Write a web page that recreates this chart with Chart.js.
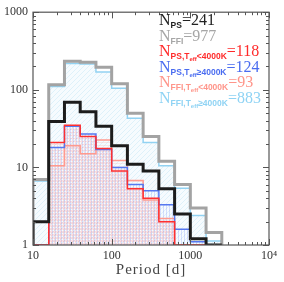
<!DOCTYPE html>
<html>
<head>
<meta charset="utf-8">
<script src="https://cdn.jsdelivr.net/npm/chart.js@4"></script>
<style>
  body { margin: 0; background: #fff; }
  #wrap { width: 284px; height: 282px; }
</style>
</head>
<body>
<div id="wrap"><canvas id="c" width="284" height="282"></canvas></div>
<script>
// bin edges in days (0.2 dex bins)
const binEdges = [10, 15.85, 25.12, 39.81, 63.1, 100, 158.5, 251.2, 398.1, 631, 1000, 1585, 2512];
const nPS = [2, 39, 69, 52, 34, 19, 11, 9, 5.3, 2.5, 1.2, 0];
const nFFI = [7, 116, 233, 226, 195, 120, 50, 25, 12, 6, 3, 1.45];
const nPSCool = [1, 21, 35, 25, 17.5, 9, 5.3, 4, 2, 1, 0, 0];
const nPSWarm = [1, 18, 34, 27, 17, 10, 6, 5, 3.3, 1.6, 1.1, 0];
const nFFICool = [0, 10.5, 19, 15, 22.5, 12.3, 6.8, 3.8, 2.2, 1, 0, 0];
const nFFIWarm = [6.7, 110, 219, 215, 170, 105, 43, 21, 10.5, 5.4, 2.4, 1.13];

const xTicks = [10, 100, 1000, 10000];
const yTicks = [1, 10, 100, 1000];

const legendSubs = ["PS", "FFI", "PS,T", "PS,T", "FFI,T", "FFI,T"];
const legendCuts = ["", "", "<4000K", "≥4000K", "<4000K", "≥4000K"];
const legendCounts = [241, 977, 118, 124, 93, 883];
const legendColors = ["#222222", "#a6a6a6", "#ff2b2b", "#4a6cf0", "#ff958a", "#8fd3f4"];

const canvas = document.getElementById("c");
const ctx0 = canvas.getContext("2d");

function makePattern(size, draw) {
  const c = document.createElement("canvas");
  c.width = c.height = size;
  const g = c.getContext("2d");
  draw(g, size);
  return ctx0.createPattern(c, "repeat");
}

const blueDiag = makePattern(5, (g, s) => {
  g.fillStyle = "rgba(236,247,253,0.45)";
  g.fillRect(0, 0, s, s);
  g.strokeStyle = "rgba(140,205,238,0.32)";
  g.lineWidth = 0.7;
  g.beginPath();
  g.moveTo(-1, s + 1); g.lineTo(s + 1, -1);
  g.moveTo(-1, 1); g.lineTo(1, -1);
  g.moveTo(s - 1, s + 1); g.lineTo(s + 1, s - 1);
  g.stroke();
});
const redGrid = makePattern(3, (g, s) => {
  g.fillStyle = "rgba(255,110,110,0.2)";
  g.fillRect(0, 0, 1, s);
  g.fillRect(1, 0, s - 1, 1);
});
const blueVert = makePattern(3, (g, s) => {
  g.fillStyle = "rgba(90,120,240,0.22)";
  g.fillRect(1, 0, 1, s);
});
const salmonHor = makePattern(3, (g, s) => {
  g.fillStyle = "rgba(255,150,140,0.2)";
  g.fillRect(0, 1, s, 1);
});

function steps(values) {
  const pts = [{ x: binEdges[0], y: 1 }];
  values.forEach((v, i) => pts.push({ x: binEdges[i], y: Math.max(v, 1) }));
  const last = binEdges[binEdges.length - 1];
  pts.push({ x: last, y: Math.max(values[values.length - 1], 1) });
  pts.push({ x: last, y: 1 });
  return pts;
}

function ds(values, color, width, order, fill) {
  return {
    data: steps(values),
    borderColor: color,
    borderWidth: width,
    stepped: true,
    pointRadius: 0,
    fill: fill ? "start" : false,
    backgroundColor: fill || "transparent",
    order: order,
  };
}

const decor = {
  id: "decor",
  afterDatasetsDraw(chart) {
    const { ctx, chartArea: a, scales } = chart;
    const xs = scales.x, ys = scales.y;
    ctx.save();
    ctx.strokeStyle = "#555";
    ctx.lineWidth = 1.2;
    ctx.strokeRect(a.left, a.top, a.right - a.left, a.bottom - a.top);
    ctx.lineWidth = 1;
    ctx.beginPath();
    [10, 100, 1000].forEach((d) => {
      for (let m = 1; m <= 10; m++) {
        const px = Math.round(xs.getPixelForValue(m * d)) + 0.5;
        const len = m === 1 || m === 10 ? 6 : 3;
        ctx.moveTo(px, a.bottom); ctx.lineTo(px, a.bottom - len);
        ctx.moveTo(px, a.top); ctx.lineTo(px, a.top + len);
      }
    });
    [1, 10, 100].forEach((d) => {
      for (let m = 1; m <= 10; m++) {
        const py = Math.round(ys.getPixelForValue(m * d)) + 0.5;
        const len = m === 1 || m === 10 ? 6 : 3;
        ctx.moveTo(a.left, py); ctx.lineTo(a.left + len, py);
        ctx.moveTo(a.right, py); ctx.lineTo(a.right - len, py);
      }
    });
    ctx.stroke();

    // axis title
    ctx.fillStyle = "#444";
    ctx.font = '15px "Liberation Serif"';
    ctx.letterSpacing = "1px";
    ctx.textAlign = "center";
    ctx.textBaseline = "alphabetic";
    ctx.fillText("Period [d]", (a.left + a.right) / 2, 274);
    ctx.letterSpacing = "0px";

    // legend
    ctx.textAlign = "left";
    legendCounts.forEach((n, i) => {
      const base = 25 + i * 15.5;
      let x = 159;
      ctx.fillStyle = legendColors[i];
      ctx.font = '16px "Liberation Serif"';
      ctx.fillText("N", x, base);
      x += ctx.measureText("N").width;
      ctx.font = 'bold 8.5px "Liberation Sans"';
      ctx.fillText(legendSubs[i], x, base + 3);
      x += ctx.measureText(legendSubs[i]).width;
      if (legendCuts[i]) {
        ctx.font = 'bold 6px "Liberation Sans"';
        ctx.fillText("eff", x, base + 5);
        x += ctx.measureText("eff").width;
        ctx.font = 'bold 8.5px "Liberation Sans"';
        ctx.fillText(legendCuts[i], x, base + 3);
        x += ctx.measureText(legendCuts[i]).width;
      }
      ctx.font = '16px "Liberation Serif"';
      ctx.fillText("=" + n, x, base);
    });
    ctx.restore();
  },
};

const tickFont = { family: "Liberation Serif", size: 12 };

new Chart(canvas, {
  type: "line",
  data: {
    datasets: [
      ds(nPS, "#1c1c1c", 3, 0, null),
      ds(nFFI, "#a3a3a3", 3, 1, null),
      ds(nPSCool, "#ff3030", 1.5, 2, redGrid),
      ds(nPSWarm, "#5578f0", 1.5, 3, blueVert),
      ds(nFFICool, "#ff9a8f", 1.5, 4, salmonHor),
      ds(nFFIWarm, "#92d2f2", 1.5, 5, blueDiag),
    ],
  },
  options: {
    responsive: false,
    devicePixelRatio: 1,
    animation: false,
    layout: { padding: { top: 10, right: 15, left: 0, bottom: 0 } },
    plugins: {
      legend: { display: false },
      tooltip: { enabled: false },
      filler: { drawTime: "beforeDatasetsDraw" },
    },
    scales: {
      x: {
        type: "logarithmic",
        min: 10,
        max: 10000,
        afterBuildTicks: (s) => { s.ticks = xTicks.map((v) => ({ value: v })); },
        afterFit: (s) => { s.height = 37; },
        grid: { display: false, drawTicks: false },
        border: { display: false },
        ticks: {
          font: tickFont,
          color: "#333",
          padding: 4,
          maxRotation: 0,
          autoSkip: false,
          callback: (v) => (v === 10000 ? "10⁴" : String(v)),
        },
      },
      y: {
        type: "logarithmic",
        min: 1,
        max: 1000,
        afterBuildTicks: (s) => { s.ticks = yTicks.map((v) => ({ value: v })); },
        afterFit: (s) => { s.width = 33; },
        grid: { display: false, drawTicks: false },
        border: { display: false },
        ticks: {
          font: tickFont,
          color: "#333",
          padding: 5,
          autoSkip: false,
          callback: (v) => String(v),
        },
      },
    },
  },
  plugins: [decor],
});
</script>
</body>
</html>
